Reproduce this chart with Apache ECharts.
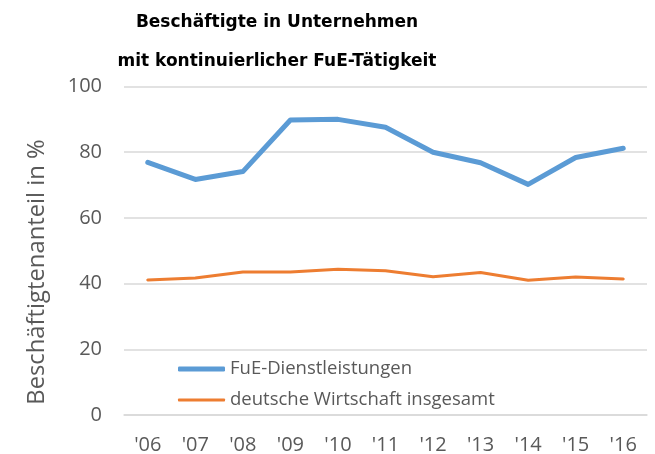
<!DOCTYPE html>
<html><head><meta charset="utf-8">
<script src="https://cdn.jsdelivr.net/npm/echarts@6/dist/echarts.min.js"></script>
<style>html,body{margin:0;padding:0;background:#fff}#c{width:655px;height:454px}</style>
</head><body><div id="c"></div>
<script>
const categories = ["'06","'07","'08","'09","'10","'11","'12","'13","'14","'15","'16"];
const fueDienstleistungen = [76.9, 71.7, 74.1, 89.8, 90.0, 87.6, 80.0, 76.8, 70.2, 78.4, 81.2];
const deutscheWirtschaft = [41.1, 41.7, 43.5, 43.5, 44.4, 43.9, 42.1, 43.4, 41.0, 42.0, 41.4];
const yTicks = [0, 20, 40, 60, 80, 100];
const titleLines = ['Beschäftigte in Unternehmen', 'mit kontinuierlicher FuE-Tätigkeit'];

const legendText = {fontFamily: 'Open Sans', fontSize: 18.5, color: '#595959', lineHeight: 24};
const chart = echarts.init(document.getElementById('c'), null, {renderer: 'canvas'});
chart.setOption({
  animation: false,
  backgroundColor: '#ffffff',
  grid: {left: 124, right: 8, top: 86.5, bottom: 39, containLabel: false, outerBoundsMode: 'none'},
  legend: [
    {orient: 'vertical', left: 173, top: 352, itemWidth: 47, itemHeight: 5, icon: 'roundRect',
     textStyle: legendText, data: ['FuE-Dienstleistungen']},
    {orient: 'vertical', left: 173, top: 383, itemWidth: 47, itemHeight: 3, icon: 'roundRect',
     textStyle: legendText, data: ['deutsche Wirtschaft insgesamt']}
  ],
  graphic: [
    {type: 'text', x: 277, y: 31, style: {text: titleLines[0], fontFamily: 'DejaVu Sans', fontWeight: 'bold', fontSize: 17, fill: '#000', align: 'center', verticalAlign: 'bottom'}},
    {type: 'text', x: 277, y: 70, style: {text: titleLines[1], fontFamily: 'DejaVu Sans', fontWeight: 'bold', fontSize: 17, fill: '#000', align: 'center', verticalAlign: 'bottom'}},
    {type: 'text', x: 37, y: 272, rotation: Math.PI/2,
     style: {text: 'Beschäftigtenanteil in %', fontFamily: 'Open Sans', fontSize: 23.8, fill: '#595959', align: 'center', verticalAlign: 'middle'}}
  ],
  xAxis: {
    type: 'category', data: categories, boundaryGap: true,
    axisLine: {lineStyle: {color: '#d9d9d9', width: 1.5}}, axisTick: {show: false},
    axisLabel: {fontFamily: 'Open Sans', fontSize: 20, color: '#595959', margin: 20}
  },
  yAxis: {
    type: 'value', min: 0, max: 100, interval: 20,
    axisLine: {show: false}, axisTick: {show: false},
    splitLine: {lineStyle: {color: '#d9d9d9', width: 1.5}},
    axisLabel: {fontFamily: 'Open Sans', fontSize: 20, color: '#595959', margin: 22,
      formatter: v => yTicks.includes(v) ? String(v) : ''}
  },
  series: [
    {name: 'FuE-Dienstleistungen', type: 'line', data: fueDienstleistungen, symbol: 'none',
     lineStyle: {color: '#5b9bd5', width: 5, cap: 'round', join: 'round'}, itemStyle: {color: '#5b9bd5'}},
    {name: 'deutsche Wirtschaft insgesamt', type: 'line', data: deutscheWirtschaft, symbol: 'none',
     lineStyle: {color: '#ed7d31', width: 3, cap: 'round', join: 'round'}, itemStyle: {color: '#ed7d31'}}
  ]
});
</script></body></html>
